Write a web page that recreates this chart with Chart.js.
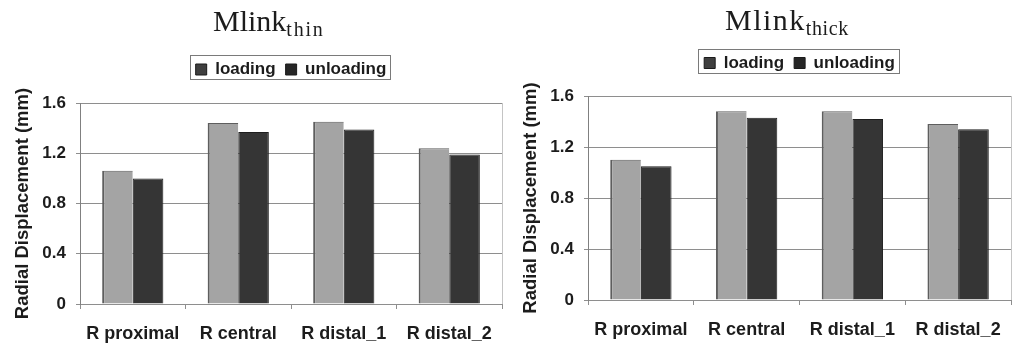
<!DOCTYPE html>
<html>
<head>
<meta charset="utf-8">
<script src="https://cdn.jsdelivr.net/npm/chart.js@4.4.1/dist/chart.umd.min.js"></script>
<style>
  html, body { margin: 0; padding: 0; background: #fff; }
  #wrap { display: flex; width: 1016px; height: 349px; }
  canvas { display: block; }
</style>
</head>
<body>
<div id="wrap">
  <canvas id="thin" width="508" height="349"></canvas>
  <canvas id="thick" width="508" height="349"></canvas>
</div>
<script>
// Radial displacement per measuring point, thin and thick link
const categories = ['R proximal', 'R central', 'R distal_1', 'R distal_2'];
const seriesNames = ['loading', 'unloading'];
const thinLoading = [1.06, 1.44, 1.45, 1.24];
const thinUnloading = [1.00, 1.37, 1.39, 1.19];
const thickLoading = [1.10, 1.48, 1.48, 1.38];
const thickUnloading = [1.05, 1.43, 1.42, 1.34];
const yTickLabels = ['0', '0.4', '0.8', '1.2', '1.6'];
const yAxisTitle = 'Radial Displacement (mm)';

const SANS = '"Liberation Sans", Arial, Helvetica, sans-serif';
const SERIF = '"Liberation Serif", "Times New Roman", serif';
const INK = '#1c1c1c';
const GRID = '#8e8e8e';
const barFill = ['#a4a4a4', '#353535'];
const barEdge = ['#5e5e5e', '#1e1e1e'];
const legendSwatch = ['#3f3f3f', '#262626'];

// Title with subscript, legend frame and the right edge of the plot area
const panelDecor = {
  id: 'panelDecor',
  afterLayout(chart) {
    const o = chart.options.plugins.panelDecor;
    const lg = chart.legend;
    const a = chart.chartArea;
    const h = lg.height;
    lg.left = a.left;
    lg.right = a.right;
    lg.width = a.right - a.left;
    lg.top = o.legendTop;
    lg.bottom = o.legendTop + h;
  },
  afterDraw(chart) {
    const o = chart.options.plugins.panelDecor;
    const ctx = chart.ctx;
    const a = chart.chartArea;
    ctx.save();
    ctx.strokeStyle = '#c4c4c4';
    ctx.lineWidth = 1;
    ctx.beginPath();
    ctx.moveTo(Math.round(a.right) + 0.5, a.top);
    ctx.lineTo(Math.round(a.right) + 0.5, a.bottom);
    ctx.stroke();

    const boxes = chart.legend.legendHitBoxes;
    if (boxes && boxes.length) {
      const first = boxes[0];
      const last = boxes[boxes.length - 1];
      const x0 = Math.round(first.left - 6) + 0.5;
      const x1 = Math.round(last.left + last.width + 4) + 0.5;
      const y0 = Math.round(first.top - 6) + 0.5;
      const y1 = Math.round(first.top + first.height + 1) + 0.5;
      ctx.strokeStyle = '#7a7a7a';
      ctx.strokeRect(x0, y0, x1 - x0, y1 - y0);
    }

    ctx.fillStyle = INK;
    ctx.textAlign = 'left';
    ctx.textBaseline = 'alphabetic';
    ctx.font = '30px ' + SERIF;
    ctx.letterSpacing = o.mainSpacing + 'px';
    ctx.fillText(o.title, o.titleX, o.titleBaseline);
    const w = ctx.measureText(o.title).width;
    ctx.font = '20px ' + SERIF;
    ctx.letterSpacing = o.subSpacing + 'px';
    ctx.fillText(o.sub, o.titleX + w, o.titleBaseline + 5);
    ctx.restore();
  }
};

function makePanel(id, loading, unloading, cfg) {
  const boldSans = (size) => ({ family: SANS, size: size, weight: 'bold' });
  return new Chart(document.getElementById(id), {
    type: 'bar',
    data: {
      labels: categories,
      datasets: [
        {
          label: seriesNames[0],
          data: loading,
          backgroundColor: barFill[0],
          borderColor: barEdge[0],
          borderWidth: { left: 2, top: 1, right: 0, bottom: 0 },
          categoryPercentage: 0.58,
          barPercentage: 1
        },
        {
          label: seriesNames[1],
          data: unloading,
          backgroundColor: barFill[1],
          borderColor: barEdge[1],
          borderWidth: 1,
          categoryPercentage: 0.58,
          barPercentage: 1
        }
      ]
    },
    plugins: [panelDecor],
    options: {
      responsive: false,
      animation: false,
      devicePixelRatio: 1,
      layout: { padding: { top: cfg.padTop, right: cfg.padRight, left: 0, bottom: 0 } },
      plugins: {
        tooltip: { enabled: false },
        legend: {
          display: true,
          position: 'top',
          labels: {
            font: boldSans(17),
            color: INK,
            boxWidth: 11,
            boxHeight: 11,
            padding: 10,
            generateLabels(chart) {
              const items = Chart.defaults.plugins.legend.labels.generateLabels(chart);
              items.forEach((it, i) => {
                it.fillStyle = legendSwatch[i];
                it.strokeStyle = '#1a1a1a';
                it.lineWidth = 1;
              });
              return items;
            }
          }
        },
        panelDecor: {
          legendTop: cfg.legendTop,
          title: 'Mlink',
          sub: cfg.sub,
          titleX: cfg.titleX,
          titleBaseline: cfg.titleBaseline,
          mainSpacing: cfg.mainSpacing,
          subSpacing: cfg.subSpacing
        }
      },
      scales: {
        x: {
          grid: { display: true, drawOnChartArea: false, drawTicks: true, tickLength: 5, color: GRID, offset: true },
          border: { display: true, color: GRID },
          ticks: { font: boldSans(18), color: INK, padding: 14, maxRotation: 0, autoSkip: false },
          afterFit(scale) { scale.height = cfg.xAxisHeight; }
        },
        y: {
          min: 0,
          max: 1.6,
          ticks: {
            stepSize: 0.4,
            font: boldSans(17),
            color: INK,
            padding: 10,
            callback: (value, index) => yTickLabels[index]
          },
          grid: { color: GRID, tickLength: 4 },
          border: { display: true, color: '#808080' },
          title: {
            display: true,
            text: yAxisTitle,
            font: boldSans(18.5),
            color: INK,
            padding: { top: 12, bottom: 0 }
          },
          afterFit(scale) { scale.width = 80; }
        }
      }
    }
  });
}

makePanel('thin', thinLoading, thinUnloading, {
  padTop: 66, padRight: 6, legendTop: 51, xAxisHeight: 45,
  sub: 'thin', titleX: 213, titleBaseline: 31, mainSpacing: 0, subSpacing: 1.75
});
makePanel('thick', thickLoading, thickUnloading, {
  padTop: 59, padRight: 5, legendTop: 44.5, xAxisHeight: 49,
  sub: 'thick', titleX: 217, titleBaseline: 30, mainSpacing: 1.5, subSpacing: 0.6
});
</script>
</body>
</html>
